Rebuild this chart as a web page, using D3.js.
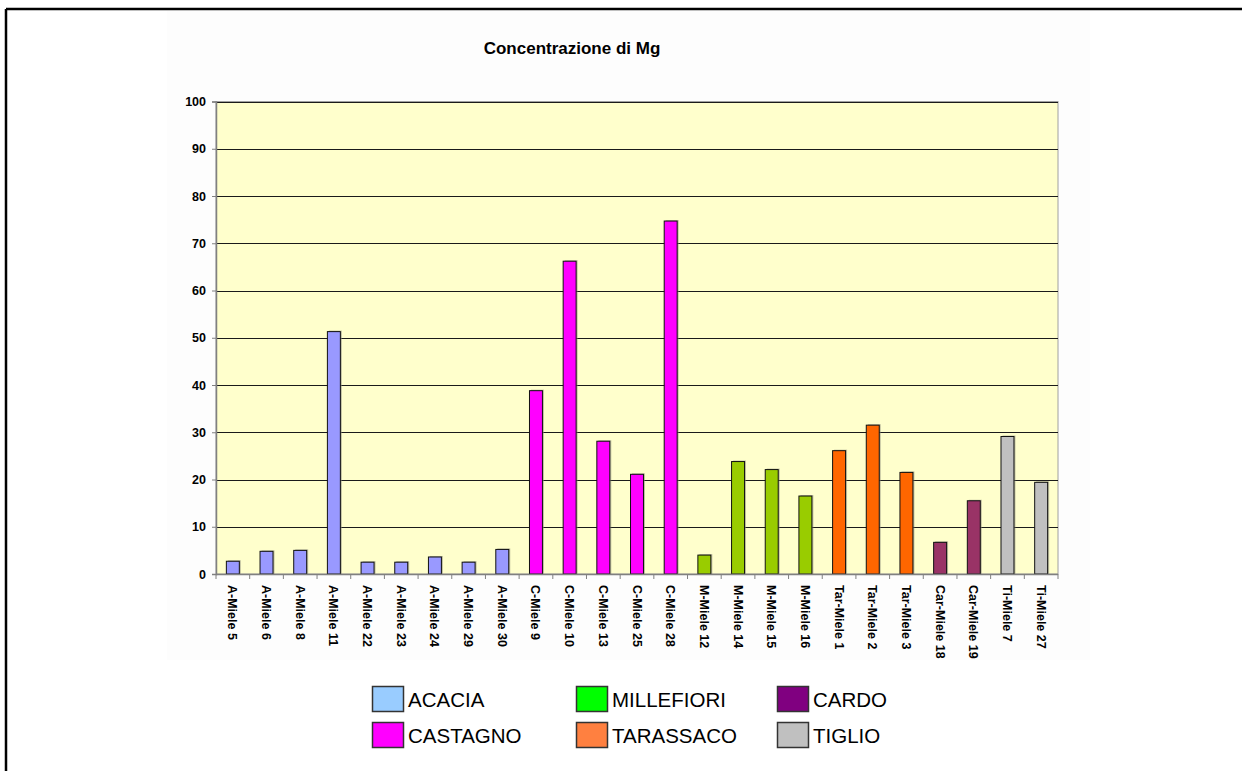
<!DOCTYPE html>
<html>
<head>
<meta charset="utf-8">
<script src="https://cdn.jsdelivr.net/npm/d3@7"></script>
<style>
  html, body { margin: 0; padding: 0; background: #fff; }
  svg { display: block; font-family: Arial, "Liberation Sans", sans-serif; }
</style>
</head>
<body>
<svg id="chart" width="1242" height="771"></svg>
<script>
// ---- data ----
const title = "Concentrazione di Mg";
const categories = [
  "A-Miele 5", "A-Miele 6", "A-Miele 8", "A-Miele 11", "A-Miele 22", "A-Miele 23",
  "A-Miele 24", "A-Miele 29", "A-Miele 30",
  "C-Miele 9", "C-Miele 10", "C-Miele 13", "C-Miele 25", "C-Miele 28",
  "M-Miele 12", "M-Miele 14", "M-Miele 15", "M-Miele 16",
  "Tar-Miele 1", "Tar-Miele 2", "Tar-Miele 3",
  "Car-Miele 18", "Car-Miele 19",
  "Ti-Miele 7", "Ti-Miele 27"
];
const values = [
  2.7, 4.8, 5.0, 51.3, 2.5, 2.5, 3.6, 2.5, 5.2,
  38.8, 66.2, 28.1, 21.1, 74.7,
  4.0, 23.8, 22.1, 16.5,
  26.1, 31.5, 21.5,
  6.7, 15.5,
  29.1, 19.4
];
const groups = [
  "ACACIA", "ACACIA", "ACACIA", "ACACIA", "ACACIA", "ACACIA", "ACACIA", "ACACIA", "ACACIA",
  "CASTAGNO", "CASTAGNO", "CASTAGNO", "CASTAGNO", "CASTAGNO",
  "MILLEFIORI", "MILLEFIORI", "MILLEFIORI", "MILLEFIORI",
  "TARASSACO", "TARASSACO", "TARASSACO",
  "CARDO", "CARDO",
  "TIGLIO", "TIGLIO"
];
const yTicks = [0, 10, 20, 30, 40, 50, 60, 70, 80, 90, 100];
const legendLabels = ["ACACIA", "MILLEFIORI", "CARDO", "CASTAGNO", "TARASSACO", "TIGLIO"];

// ---- styles ----
const barColor = {
  ACACIA: "#9999FF", CASTAGNO: "#FF00FF", MILLEFIORI: "#99CC00",
  TARASSACO: "#FF6600", CARDO: "#993366", TIGLIO: "#C0C0C0"
};
const legendColor = {
  ACACIA: "#99CCFF", MILLEFIORI: "#00FF00", CARDO: "#800080",
  CASTAGNO: "#FF00FF", TARASSACO: "#FF8040", TIGLIO: "#C0C0C0"
};

const svg = d3.select("#chart");

// outer frame (only top and left visible in reference)
svg.append("line").attr("x1", 6).attr("x2", 1242).attr("y1", 9).attr("y2", 9)
  .attr("stroke", "#000").attr("stroke-width", 2.5);
svg.append("line").attr("x1", 6).attr("x2", 6).attr("y1", 9).attr("y2", 771)
  .attr("stroke", "#000").attr("stroke-width", 2.5);

// very faint chart area
svg.append("rect").attr("x", 167).attr("y", 11).attr("width", 923).attr("height", 649)
  .attr("fill", "#fdfdfd");

const plot = { left: 216, right: 1058, top: 101.5, bottom: 574 };

const x = d3.scaleBand()
  .domain(categories)
  .range([plot.left, plot.right])
  .paddingInner(0.615)
  .paddingOuter(0.3075);

const y = d3.scaleLinear().domain([0, 100]).range([plot.bottom, plot.top]);

// plot background
svg.append("rect")
  .attr("x", plot.left).attr("y", plot.top)
  .attr("width", plot.right - plot.left).attr("height", plot.bottom - plot.top)
  .attr("fill", "#FFFFCC").attr("stroke", "#a0a0a0").attr("stroke-width", 1);

// gridlines
svg.append("g").selectAll("line")
  .data(yTicks.filter(t => t > 0))
  .join("line")
  .attr("x1", plot.left).attr("x2", plot.right)
  .attr("y1", d => Math.round(y(d)) + 0.5).attr("y2", d => Math.round(y(d)) + 0.5)
  .attr("stroke", "#1a1a1a").attr("stroke-width", 1);

// bar shadows
svg.append("g").selectAll("rect")
  .data(categories)
  .join("rect")
  .attr("x", (d) => x(d) + 1.5)
  .attr("y", (d, i) => y(values[i]) - 1)
  .attr("width", x.bandwidth())
  .attr("height", (d, i) => y(0) - y(values[i]) + 1)
  .attr("fill", "#8a8a7a").attr("opacity", 0.55);

// bars
svg.append("g").selectAll("rect")
  .data(categories)
  .join("rect")
  .attr("x", d => x(d))
  .attr("y", (d, i) => y(values[i]))
  .attr("width", x.bandwidth())
  .attr("height", (d, i) => y(0) - y(values[i]))
  .attr("fill", (d, i) => barColor[groups[i]])
  .attr("stroke", "#111").attr("stroke-width", 1);

// y axis
const yAxis = d3.axisLeft(y).tickValues(yTicks).tickSize(4).tickPadding(6).tickFormat(d3.format("d"));
const gy = svg.append("g").attr("transform", `translate(${plot.left},0)`).call(yAxis);
gy.select(".domain").attr("stroke", "#808080").attr("stroke-width", 1.5);
gy.selectAll(".tick line").attr("stroke", "#808080");
gy.selectAll(".tick text").attr("font-size", 12.5).attr("font-weight", "bold")
  .attr("fill", "#000").attr("font-family", "Arial, 'Liberation Sans', sans-serif");

// x axis: ticks at band boundaries
const step = x.step();
const boundaries = d3.range(categories.length + 1).map(i => plot.left + i * step);
svg.append("line").attr("x1", plot.left).attr("x2", plot.right)
  .attr("y1", plot.bottom + 0.5).attr("y2", plot.bottom + 0.5)
  .attr("stroke", "#808080").attr("stroke-width", 1.5);
svg.append("g").selectAll("line")
  .data(boundaries)
  .join("line")
  .attr("x1", d => d).attr("x2", d => d)
  .attr("y1", plot.bottom).attr("y2", plot.bottom + 5)
  .attr("stroke", "#808080").attr("stroke-width", 1);

// x labels rotated (top-to-bottom)
svg.append("g").selectAll("text")
  .data(categories)
  .join("text")
  .attr("transform", d => `translate(${x(d) + x.bandwidth() / 2 - 4.5},${plot.bottom + 11}) rotate(90)`)
  .attr("text-anchor", "start")
  .attr("font-size", 12.5).attr("font-weight", "bold").attr("fill", "#000")
  .text(d => d);

// title
svg.append("text")
  .attr("x", 572).attr("y", 54)
  .attr("text-anchor", "middle")
  .attr("font-size", 17).attr("font-weight", "bold").attr("fill", "#000")
  .text(title);

// legend
const legCols = [372, 576, 777];
const legRows = [686, 722];
const leg = svg.append("g").selectAll("g")
  .data(legendLabels)
  .join("g")
  .attr("transform", (d, i) => `translate(${legCols[i % 3]},${legRows[Math.floor(i / 3)]})`);
leg.append("rect")
  .attr("x", 0.5).attr("y", 0.5).attr("width", 31).attr("height", 25)
  .attr("fill", d => legendColor[d]).attr("stroke", "#333").attr("stroke-width", 1.5);
leg.append("text")
  .attr("x", 36).attr("y", 21)
  .attr("font-size", 20.5).attr("fill", "#000")
  .text(d => d);
</script>
</body>
</html>
